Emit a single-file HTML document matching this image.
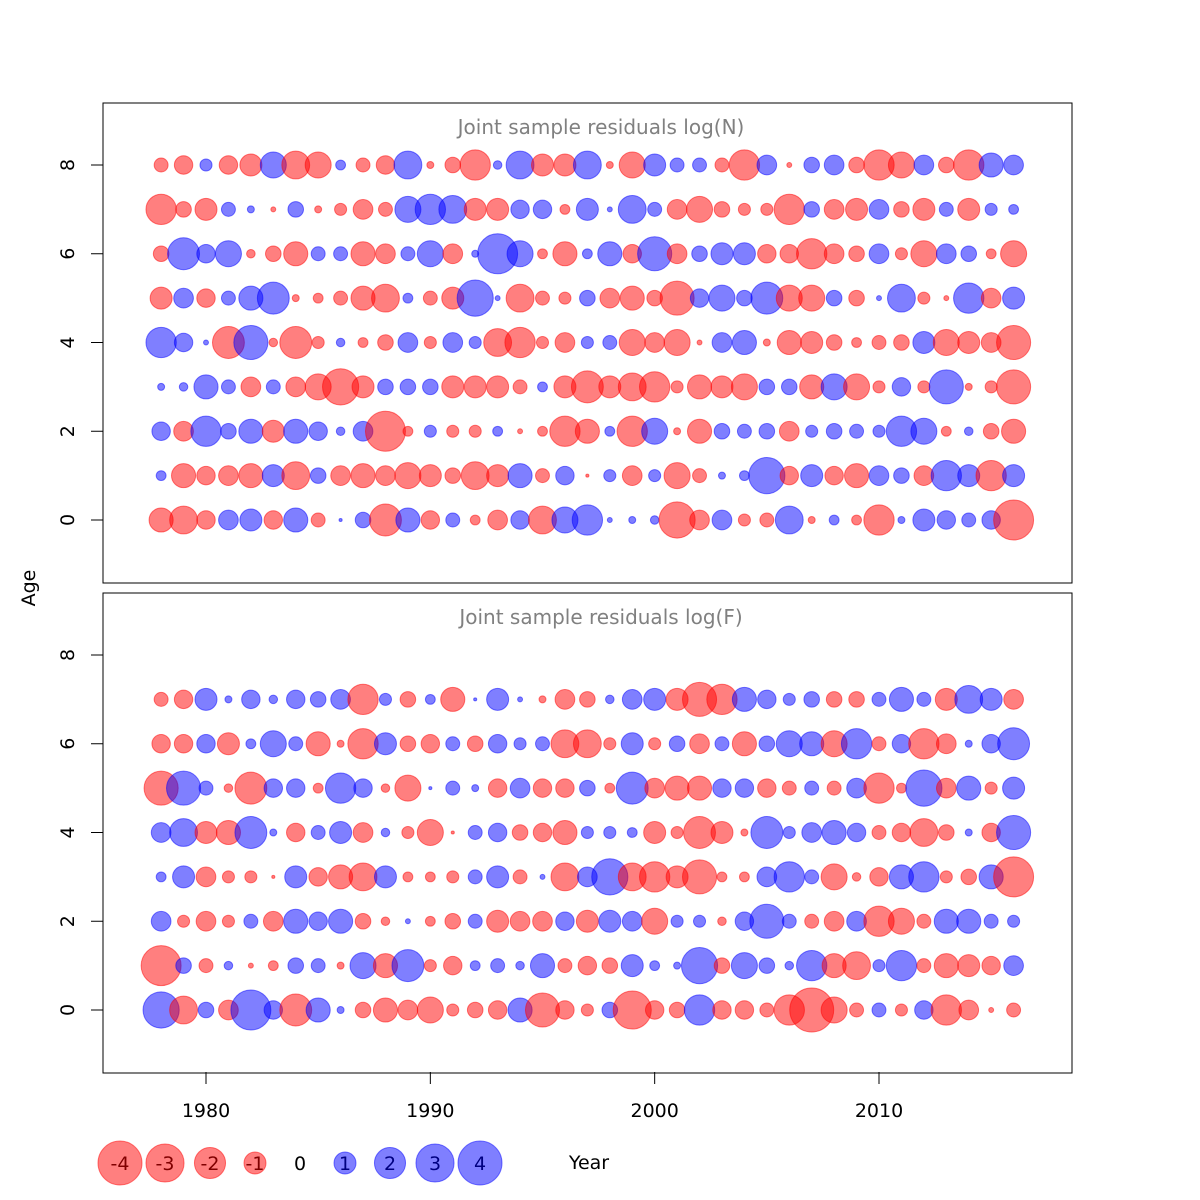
<!DOCTYPE html>
<html><head><meta charset="utf-8"><style>
html,body{margin:0;padding:0;background:#fff;}
svg{display:block;font-family:"DejaVu Sans","Liberation Sans",sans-serif;}
</style></head><body>
<svg id="chart" width="1200" height="1200"></svg>
<script>
const years = [];
for (let y = 1978; y <= 2016; y++) years.push(y);
// Residuals log(N), ages 0..8
const resN0 = [-1.2,-1.6,-0.7,0.8,1,-0.7,1.2,-0.4,0.02,0.5,-2.1,1.2,-0.7,0.4,-0.2,-0.8,0.7,-1.6,1.4,1.9,0.05,0.1,0.15,-2.7,-0.8,0.8,-0.3,-0.4,1.6,-0.1,0.2,-0.2,-1.9,0.1,1,0.7,0.4,0.7,-3.3];
const resN1 = [0.2,-1.2,-0.7,-0.8,-1.2,1,-1.6,0.5,-0.8,-1.2,-0.8,-1.4,-1,-0.5,-1.6,-1,1.2,-0.4,0.7,-0.02,0.3,-0.8,0.3,-1.4,-0.4,0.1,0.2,2.7,-0.7,1,-0.7,-1.2,0.8,0.5,-0.8,1.9,1,-1.9,1];
const resN2 = [0.7,-0.8,1.9,0.5,1.2,-1,1.2,0.7,0.15,0.8,-3.3,-0.2,0.3,-0.3,-0.3,0.2,-0.05,-0.2,-1.9,-1.2,0.2,-1.9,1.4,-0.1,-1.2,0.5,0.4,0.5,-0.8,0.3,0.5,0.4,0.3,1.9,1.4,-0.2,0.15,-0.5,-1.2];
const resN3 = [0.1,0.15,1.2,0.4,-0.8,0.4,-0.8,-1.4,-2.7,-1,0.5,0.5,0.5,-1,-1,-1,-0.4,0.2,-1,-2.1,-1,-1.6,-1.9,-0.3,-1.2,-1,-1.4,0.5,0.5,-1.2,1.4,-1.4,-0.3,0.7,-0.3,2.4,-0.1,-0.3,-2.4];
const resN4 = [1.9,0.7,0.05,-2.1,2.4,-0.15,-2.1,-0.3,0.15,-0.2,-0.5,0.8,-0.3,0.8,0.3,-1.6,-1.9,-0.3,-0.8,0.3,0.4,-1.4,-0.8,-1.4,-0.05,0.8,1.2,-0.1,-1.2,-1,-0.5,-0.2,-0.4,-0.5,1,-1.4,-1,-0.8,-2.4];
const resN5 = [-1,0.8,-0.7,0.4,1.2,2.1,-0.1,-0.2,-0.4,-1.2,-1.6,0.2,-0.4,-1,2.7,0.05,-1.6,-0.4,-0.3,0.5,-0.8,-1.2,-0.5,-2.4,0.7,1.4,0.5,2.1,-1.4,-1.4,0.5,-0.5,0.05,1.6,-0.3,-0.05,1.9,-0.8,1];
const resN6 = [-0.5,2.1,0.7,1.4,-0.15,-0.5,-1.2,0.4,0.4,-1.2,-0.8,0.4,1.4,-0.8,0.1,3.3,1.4,-0.2,-1.2,0.2,1.2,-0.7,2.4,-0.8,0.5,1,1,-0.7,-0.7,-1.9,-0.8,-0.5,0.8,-0.3,-1.4,0.8,0.5,-0.2,-1.4];
const resN7 = [-1.9,-0.5,-1,0.4,0.1,-0.05,0.5,-0.1,-0.3,-0.8,-0.4,1.4,1.9,1.6,-1,-1,0.7,0.7,-0.2,1,0.05,1.6,0.4,-0.8,-1.4,-0.5,-0.3,-0.3,-1.9,0.5,-0.8,-1,0.8,-0.5,-1,0.4,-1,0.3,0.2];
const resN8 = [-0.4,-0.7,0.3,-0.7,-1,1.4,-1.6,-1.4,0.2,-0.4,-0.7,1.6,-0.1,-0.5,-1.9,0.15,1.6,-1,-1,1.6,-0.1,-1.4,1,0.4,0.4,-0.4,-1.9,0.8,-0.05,0.5,0.8,-0.5,-1.9,-1.4,0.8,-0.5,-1.9,1.2,0.8];
// Residuals log(F), ages 0..7
const resF0 = [2.7,-1.6,0.5,-0.8,3.3,0.7,-2.1,1.2,0.1,-0.5,-1.2,-0.8,-1.4,-0.3,-0.5,-0.7,1.2,-2.4,-0.7,-0.3,0.5,-3,-0.7,-0.5,1.9,-0.7,-0.7,-0.4,-1.9,-4,-1.4,-0.4,0.4,-0.3,0.7,-1.9,-0.8,-0.05,-0.4];
const resF1 = [-3.3,0.5,-0.4,0.15,-0.05,-0.2,0.5,0.4,-0.1,1.4,-1.2,2.1,-0.3,-0.7,0.2,0.4,0.15,1.2,-0.4,-0.7,-0.5,1,0.2,0.1,2.7,-0.5,1.4,0.5,0.15,1.9,-1.2,-1.6,0.3,1.9,-0.4,-1.2,-1,-0.7,0.8];
const resF2 = [0.8,-0.3,-0.8,-0.3,0.4,-0.8,1.2,0.7,1.2,-0.5,-0.15,0.05,-0.2,-0.5,0.4,-1,-0.8,-0.8,0.7,-1,1,0.8,-1.4,0.3,0.3,-0.15,0.7,2.4,0.4,-0.4,-0.8,0.8,-1.9,-1.4,-0.4,1.2,1.2,0.4,0.3];
const resF3 = [0.2,1,-0.8,-0.3,-0.3,-0.02,1,-0.7,-1.2,-1.6,1,-0.2,-0.2,-0.3,0.4,1,-0.4,0.05,-1.6,0.8,2.7,-1.6,-1.9,-1,-2.4,-0.2,-0.2,0.8,1.9,0.4,-1.4,-0.15,-0.7,1.2,1.9,-0.3,-0.5,1.2,-3.3];
const resF4 = [0.8,1.6,-1,-1.2,2.1,0.1,-0.7,0.4,1,-0.8,0.15,-0.3,-1.4,-0.02,0.4,0.7,-0.5,-0.7,-1.2,0.3,0.3,0.2,-1,-0.3,-2.1,-1,-0.1,2.1,0.3,0.8,1.2,0.7,-0.4,-0.7,-1.6,-0.5,0.1,-0.7,2.4];
const resF5 = [-2.4,2.4,0.4,-0.15,-2.1,0.7,0.7,-0.2,1.9,0.7,-0.15,-1.4,0.02,0.4,0.1,-0.7,0.8,-0.7,-0.7,0.5,-0.2,2.1,-0.8,-1.2,-1.2,0.7,0.7,-0.7,-0.4,0.4,-0.4,0.8,-1.9,-0.2,2.7,-0.8,1.2,-0.3,1];
const resF6 = [-0.7,-0.7,0.7,-1,0.2,1.4,0.4,-1.2,-0.1,-1.9,1,-0.5,-0.7,0.4,-0.5,0.7,0.3,0.4,-1.6,-1.6,-0.3,1,-0.3,0.5,-0.8,0.4,-1.2,0.5,1.4,1.2,-1.4,1.9,-0.4,0.7,-1.9,-0.8,0.1,0.7,2.1];
const resF7 = [-0.4,-0.7,1,0.1,0.7,0.15,0.7,0.5,0.8,-1.9,0.3,-0.5,0.2,-1.2,0.02,1,0.05,-0.1,-0.8,-0.5,0.15,0.8,1,-1,-2.4,-1.9,1.2,0.7,0.3,0.5,-0.5,-0.5,0.4,1.2,0.4,-1,1.6,1,-0.8];
const legendValues = [-4,-3,-2,-1,0,1,2,3,4];
const xTicks = [1980,1990,2000,2010];
const yTicks = [0,2,4,6,8];

const NS = 'http://www.w3.org/2000/svg';
const svg = document.getElementById('chart');
function mk(tag, attrs, parent) {
  const e = document.createElementNS(NS, tag);
  for (const k in attrs) e.setAttribute(k, attrs[k]);
  (parent || svg).appendChild(e);
  return e;
}
const xScale = yr => 206 + (yr - 1980) * (673 / 30);
const rScale = v => 11 * Math.sqrt(Math.abs(v));
const RED = 'rgba(255,0,0,0.5)', BLUE = 'rgba(0,0,255,0.5)';

function panel(top, title, rows, name) {
  const g = mk('g', {});
  
  
  const y0 = top + 417;
  const yScale = a => y0 - a * 44.375;
  const box = mk('rect', {x:103, y:top, width:969, height:480, fill:'none', stroke:'#000', 'stroke-width':1}, g);
  
  
  const t = mk('text', {x:601, y:top+31, 'text-anchor':'middle', 'font-size':20, fill:'#808080'}, g);
  t.textContent = title;
  
  
  yTicks.forEach(v => {
    const yy = yScale(v);
    const tk = mk('line', {x1:91, x2:103, y1:yy, y2:yy, stroke:'#000'}, g);
    
    
    const lb = mk('text', {x:0, y:0, transform:`translate(74,${yy}) rotate(-90)`, 'text-anchor':'middle', 'font-size':19}, g);
    lb.textContent = v;
    
    
  });
  rows.forEach((row, age) => {
    row.forEach((v, i) => {
      const c = mk('circle', {cx:xScale(years[i]), cy:yScale(age), r:rScale(v), fill: v < 0 ? RED : BLUE, stroke: v < 0 ? RED : BLUE, 'stroke-width':1}, g);
      
      
    });
  });
}
panel(103, 'Joint sample residuals log(N)', [resN0,resN1,resN2,resN3,resN4,resN5,resN6,resN7,resN8], 'panel-log-n');
panel(593, 'Joint sample residuals log(F)', [resF0,resF1,resF2,resF3,resF4,resF5,resF6,resF7], 'panel-log-f');

xTicks.forEach(v => {
  const xx = xScale(v);
  const tk = mk('line', {x1:xx, x2:xx, y1:1072, y2:1084, stroke:'#000'});
  
  
  const lb = mk('text', {x:xx, y:1117, 'text-anchor':'middle', 'font-size':19});
  lb.textContent = v;
  
  
});
const yt = mk('text', {x:0, y:0, transform:'translate(35,588) rotate(-90)', 'text-anchor':'middle', 'font-size':19});
yt.textContent = 'Age';


const xt = mk('text', {x:589, y:1169, 'text-anchor':'middle', 'font-size':19});
xt.textContent = 'Year';



legendValues.forEach((v, i) => {
  const cx = 120 + i * 45;
  const lt = mk('text', {x:cx, y:1170, 'text-anchor':'middle', 'font-size':19, fill:'#000'});
  lt.textContent = v;
  
  
  if (v !== 0) {
    const c = mk('circle', {cx:cx, cy:1163, r:rScale(v), fill: v < 0 ? RED : BLUE, stroke: v < 0 ? RED : BLUE});
    
    
  }
});
</script>
</body></html>
